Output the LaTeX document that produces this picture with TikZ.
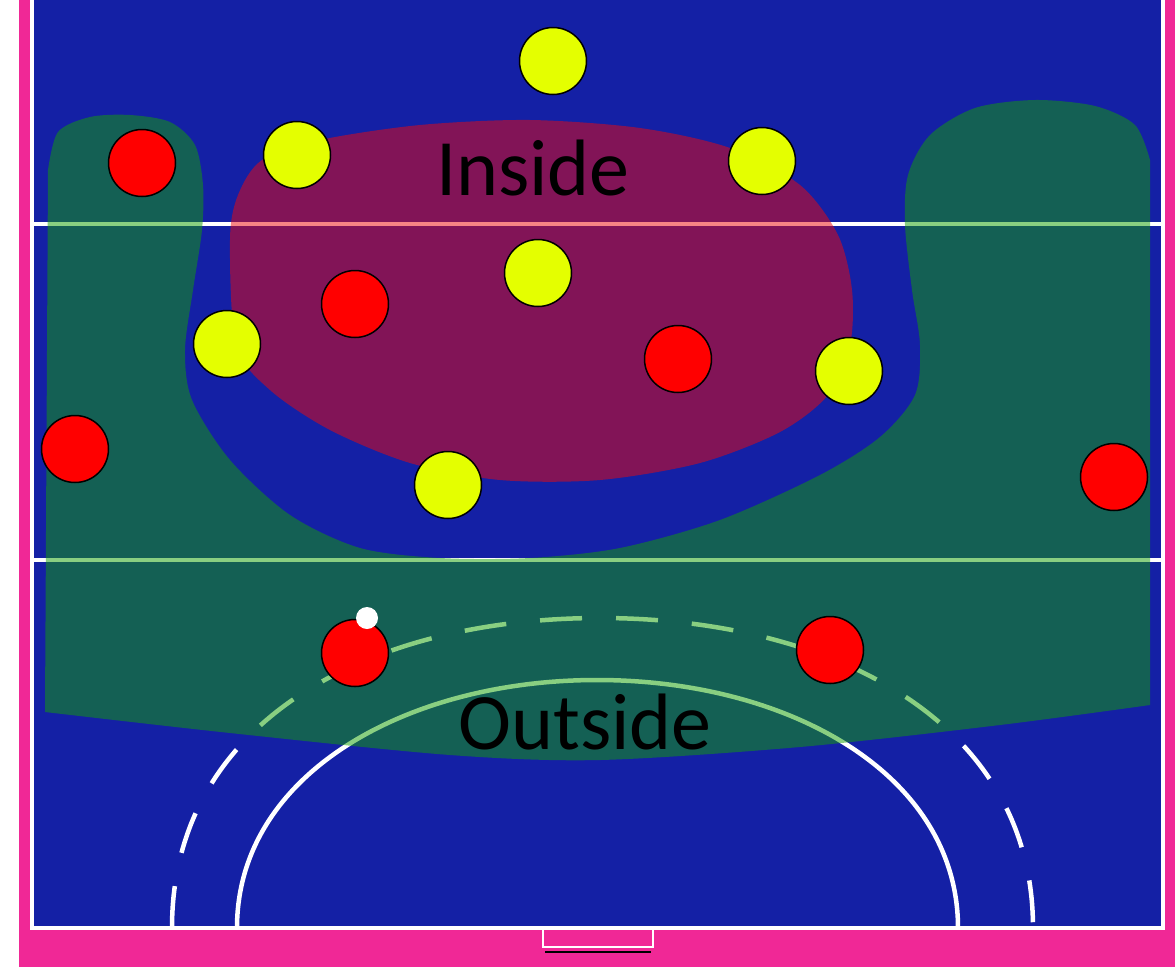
\documentclass[tikz,border=0pt]{standalone}
\usepackage{fontspec}
\setmainfont{Carlito}
\usetikzlibrary{positioning}
\definecolor{court}{RGB}{20,32,165}
\definecolor{rim}{RGB}{240,40,150}
\definecolor{outzone}{RGB}{20,160,5}
\definecolor{inzone}{RGB}{240,10,10}
\definecolor{yel}{RGB}{228,255,0}
\tikzset{
  atk/.style     = {draw=black, circle, fill=red, minimum size=67pt, inner sep=0pt, line width=1.5pt},
  def/.style     = {draw=black, circle, fill=yel, minimum size=67pt, inner sep=0pt, line width=1.5pt},
  ballnode/.style= {circle, fill=white, minimum size=22pt, inner sep=0pt},
  cline/.style   = {white, line width=4.5pt},
  zonetxt/.style = {font=\fontsize{80}{80}\selectfont, text=black, inner sep=0pt},
}

\begin{document}
\begin{tikzpicture}[x=1pt, y=-1pt]
  \useasboundingbox (0,0) rectangle (1175,967);
  % ---- court ----
  \fill[white] (0,0) rectangle (1175,967);
  \fill[rim] (19,0) rectangle (1175,967);
  \fill[court] (32,0) rectangle (1163,928);
  \draw[cline] (32,0) -- (32,928) -- (1163,928) -- (1163,0);
  \draw[cline] (32,224) -- (1163,224);
  \draw[cline] (32,560) -- (1163,560);
  \draw[cline] (237,928) .. controls (237,775) and (405,680) .. (597,680)
               .. controls (790,680) and (958,775) .. (958,928);
  \draw[cline, dash pattern=on 42pt off 34pt] (172,928) .. controls (172,720) and (370,618) .. (600,618)
               .. controls (830,618) and (1033,720) .. (1033,928);
  % goal
  \draw[white, line width=2.5pt] (543,928) -- (543,947) -- (653,947) -- (653,928);
  \draw[black, line width=2pt] (545,952) -- (651,952);

  % ---- zones ----
  \fill[outzone, fill opacity=0.5] (45,712) -- (48,170)
    -- plot[smooth] coordinates {(48,170) (58,132) (90,117) (130,115) (170,122) (195,145)
      (203,185) (202,230) (193,290) (185,350) (192,400) (230,460) (290,515) (360,548)
      (440,558) (530,558) (620,548) (720,520) (820,475) (880,437) (915,395) (920,345)
      (912,290) (905,225) (908,175) (930,135) (975,108) (1035,100) (1095,106) (1135,125) (1150,160)}
    -- (1150,705)
    -- plot[smooth] coordinates {(1150,705) (1000,725) (800,747) (600,760) (450,755) (230,733) (45,712)}
    -- cycle;
  \fill[inzone, fill opacity=0.5] plot[smooth cycle] coordinates {(230,240) (238,195) (262,160)
    (320,140) (420,125) (530,120) (640,128) (730,148) (800,185) (838,235) (852,290)
    (850,345) (828,395) (780,432) (700,463) (600,480) (500,480) (410,463) (330,430)
    (270,390) (236,345)};

  % ---- players ----
  \node[def] (d1) at (553,61) {};
  \node[def] (d2) at (297,155) {};
  \node[def] (d3) at (762,161) {};
  \node[def] (d4) at (538,273) {};
  \node[def] (d5) at (227,344) {};
  \node[def] (d6) at (849,371) {};
  \node[def] (d7) at (448,485) {};
  \node[atk] (a1) at (142,163) {};
  \node[atk] (a2) at (355,304) {};
  \node[atk] (a3) at (678,359) {};
  \node[atk] (a4) at (75,449) {};
  \node[atk] (a5) at (1114,477) {};
  \node[atk] (a6) at (355,653) {};
  \node[atk] (a7) at (830,650) {};
  \node[ballnode] (ball) at (367,618) {};

  % ---- labels ----
  \node[zonetxt] (inside) at (533,168) {Inside};
  \node[zonetxt] (outside) at (585,722) {Outside};
\end{tikzpicture}
\end{document}
